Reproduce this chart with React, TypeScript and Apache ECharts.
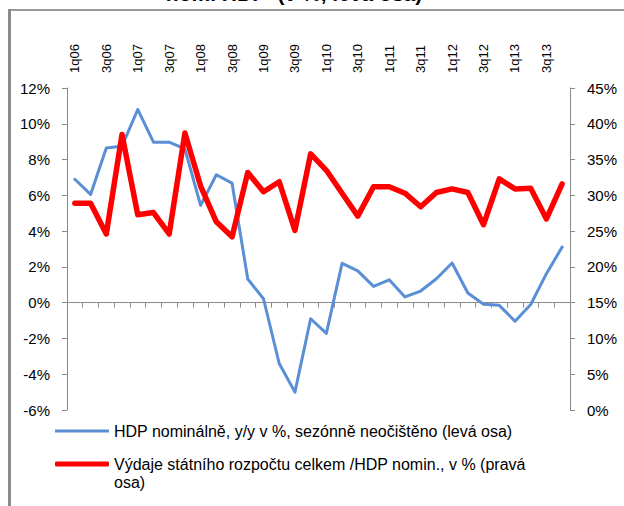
import React, { useEffect, useRef } from "react";
import * as echarts from "echarts";

const categories = [
  "1q06", "2q06", "3q06", "4q06", "1q07", "2q07", "3q07", "4q07",
  "1q08", "2q08", "3q08", "4q08", "1q09", "2q09", "3q09", "4q09",
  "1q10", "2q10", "3q10", "4q10", "1q11", "2q11", "3q11", "4q11",
  "1q12", "2q12", "3q12", "4q12", "1q13", "2q13", "3q13", "4q13",
];

const hdpNominal = [
  6.9, 6.05, 8.65, 8.75, 10.8, 8.97, 8.97, 8.6,
  5.44, 7.15, 6.68, 1.32, 0.22, -3.4, -5.0, -0.9,
  -1.72, 2.2, 1.78, 0.91, 1.28, 0.32, 0.65, 1.34,
  2.22, 0.54, -0.09, -0.15, -1.04, -0.1, 1.62, 3.11,
];

const budgetRatio = [
  28.9, 28.9, 24.6, 38.5, 27.3, 27.6, 24.6, 38.7,
  31.3, 26.3, 24.2, 33.2, 30.5, 31.9, 25.1, 35.8,
  33.5, 30.3, 27.1, 31.2, 31.2, 30.3, 28.4, 30.4,
  30.9, 30.4, 25.9, 32.3, 30.9, 31.0, 26.7, 31.6,
];

const LEFT_MIN = -6;
const LEFT_MAX = 12;

const blueName = "HDP nominálně, y/y v %, sezónně neočištěno (levá osa)";
const redName = "Výdaje státního rozpočtu celkem /HDP nomin., v % (pravá osa)";
const titleText = "nom. HDP  (v %, levá osa)";

const FONT = '"Liberation Sans", Arial, sans-serif';
const AXIS_GREY = "#8a8a8a";

export default function App() {
  const ref = useRef<HTMLDivElement>(null);

  useEffect(() => {
    if (!ref.current) return;
    const chart = echarts.init(ref.current, undefined, { renderer: "svg" });
    const labelData = categories
      .map((c, i) => [i, LEFT_MAX])
      .filter((_, i) => i % 2 === 0);
    chart.setOption({
      animation: false,
      backgroundColor: "#ffffff",
      textStyle: { fontFamily: FONT },
      grid: { left: 67, right: 54, top: 88, bottom: 96, containLabel: false },
      graphic: [
        { type: "rect", z: 0, shape: { x: 8, y: 9, width: 616, height: 2 }, style: { fill: "#9a9a9a" } },
        { type: "rect", z: 0, shape: { x: 8, y: 9, width: 3, height: 497 }, style: { fill: "#8a8a8a" } },
        {
          type: "text",
          x: 294,
          y: 4,
          style: {
            text: titleText,
            font: 'bold 21px "Liberation Sans", Arial, sans-serif',
            fill: "#000",
            align: "center",
            verticalAlign: "bottom",
            textAlign: "center",
            textVerticalAlign: "bottom",
          },
        },
      ],
      legend: [
        {
          data: [{ name: blueName, icon: "rect" }],
          left: 55,
          top: 423,
          padding: 0,
          itemWidth: 54,
          itemHeight: 3,
          textStyle: { fontSize: 16, lineHeight: 16, color: "#000", fontFamily: FONT },
        },
        {
          data: [{ name: redName, icon: "roundRect" }],
          left: 55,
          top: 437,
          padding: 0,
          itemWidth: 54,
          itemHeight: 5,
          formatter: (n: string) => "\n" + n.replace(" (pravá osa)", " (pravá\nosa)"),
          textStyle: {
            fontSize: 16,
            lineHeight: 18,
            color: "#000",
            fontFamily: FONT,
          },
        },
      ],
      xAxis: [
        {
          type: "category",
          data: categories,
          position: "bottom",
          boundaryGap: true,
          axisLine: { show: true, onZero: true, onZeroAxisIndex: 0, lineStyle: { color: AXIS_GREY, width: 1 } },
          axisTick: { show: true, interval: 0, length: 5, inside: false, lineStyle: { color: AXIS_GREY } },
          axisLabel: { show: false },
          splitLine: { show: false },
        },
      ],
      yAxis: [
        {
          type: "value",
          min: LEFT_MIN,
          max: LEFT_MAX,
          interval: 2,
          position: "left",
          axisLine: { show: true, lineStyle: { color: AXIS_GREY } },
          axisTick: { show: true, length: 5, lineStyle: { color: AXIS_GREY } },
          axisLabel: { formatter: (v: number) => `${v}%`, fontSize: 15, color: "#000", margin: 17, fontFamily: FONT },
          splitLine: { show: false },
        },
        {
          type: "value",
          min: 0,
          max: 45,
          interval: 5,
          position: "right",
          axisLine: { show: true, lineStyle: { color: AXIS_GREY } },
          axisTick: { show: true, length: 5, lineStyle: { color: AXIS_GREY } },
          axisLabel: { formatter: (v: number) => `${v}%`, fontSize: 15, color: "#000", margin: 17, fontFamily: FONT },
          splitLine: { show: false },
        },
      ],
      series: [
        {
          name: blueName,
          type: "line",
          xAxisIndex: 0,
          yAxisIndex: 0,
          data: hdpNominal,
          symbol: "none",
          smooth: false,
          z: 3,
          itemStyle: { color: "#5a8fd6" },
          lineStyle: { color: "#5a8fd6", width: 3, join: "round", cap: "round" },
        },
        {
          name: redName,
          type: "line",
          xAxisIndex: 0,
          yAxisIndex: 1,
          data: budgetRatio,
          symbol: "none",
          smooth: false,
          z: 4,
          itemStyle: { color: "#ff0000" },
          lineStyle: { color: "#ff0000", width: 5.5, join: "round", cap: "round" },
        },
        {
          name: "quarterLabels",
          type: "custom",
          coordinateSystem: "cartesian2d",
          xAxisIndex: 0,
          yAxisIndex: 0,
          data: labelData,
          clip: false,
          silent: true,
          z: 5,
          renderItem: (params: any, api: any) => {
            const idx = api.value(0);
            const p = api.coord([idx, api.value(1)]);
            return {
              type: "text",
              x: p[0],
              y: p[1] - 15,
              rotation: Math.PI / 2,
              style: {
                text: categories[idx],
                fill: "#000",
                font: '13px "Liberation Sans", Arial, sans-serif',
                align: "left",
                verticalAlign: "middle",
              },
            };
          },
        },
      ],
    });
    return () => chart.dispose();
  }, []);

  return (
    <div
      ref={ref}
      style={{ position: "absolute", left: 0, top: 0, width: 624, height: 506 }}
    />
  );
}
